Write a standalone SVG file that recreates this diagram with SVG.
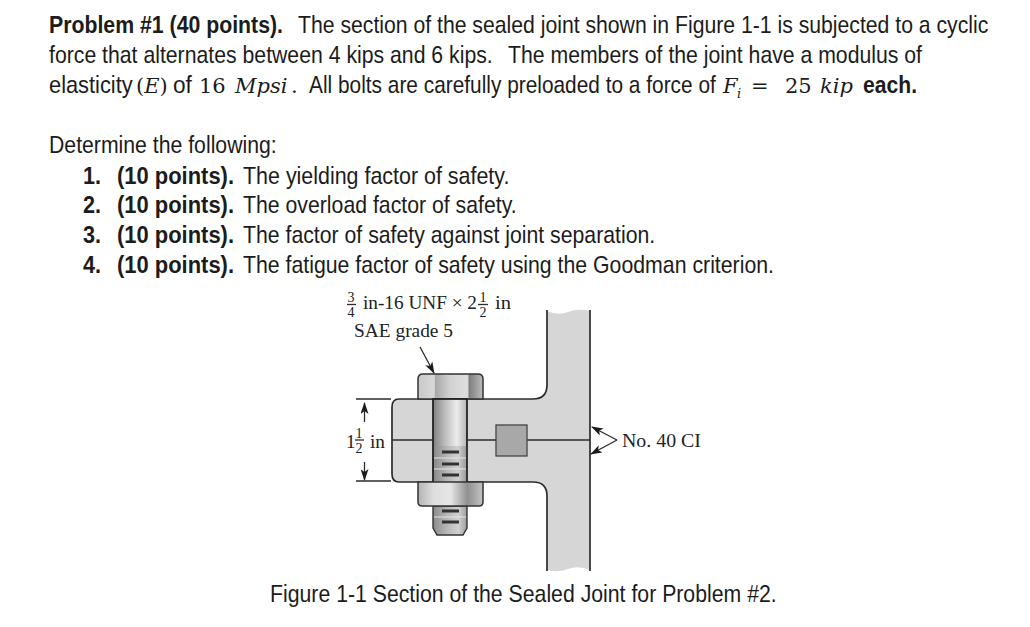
<svg xmlns="http://www.w3.org/2000/svg" width="1030" height="627" viewBox="0 0 1030 627">
<style>
.t{font-family:"Liberation Sans",Arial,sans-serif;font-size:24px;fill:#1c1c1c}
.b{font-weight:bold}
.m{font-family:"DejaVu Serif","Liberation Serif",serif;font-size:21px;fill:#1c1c1c}
.i{font-style:italic}
.s{font-family:"Liberation Serif","Times New Roman",serif;font-size:19px;fill:#222}
.f{font-family:"Liberation Serif","Times New Roman",serif;font-size:14px;fill:#222;text-anchor:middle}
.o{stroke:#2c2c2c;stroke-width:1.7;fill:none}
.l{stroke:#2c2c2c;stroke-width:1.3;fill:none}
.th{stroke:#333;stroke-width:3;fill:none}
.gap{stroke:#e4e4e4;stroke-width:1.2;fill:none}
.soft{filter:url(#soft)}
</style>
<defs>
<filter id="soft" x="-5%" y="-5%" width="110%" height="110%"><feGaussianBlur stdDeviation="0.45"/></filter>
<marker id="ah" markerWidth="12" markerHeight="8" refX="11" refY="4" orient="auto" markerUnits="userSpaceOnUse"><path d="M0,0L12,4L0,8L3,4Z" fill="#1c1c1c"/></marker>
<linearGradient id="shank" x1="0" x2="1" y1="0" y2="0"><stop offset="0" stop-color="#808080"/><stop offset=".35" stop-color="#bcbcbc"/><stop offset=".7" stop-color="#ececec"/><stop offset="1" stop-color="#b4b4b4"/></linearGradient>
<linearGradient id="thread" x1="0" x2="1" y1="0" y2="0"><stop offset="0" stop-color="#8a8a8a"/><stop offset=".4" stop-color="#b6b6b6"/><stop offset=".75" stop-color="#d0d0d0"/><stop offset="1" stop-color="#9c9c9c"/></linearGradient>
<linearGradient id="head" x1="0" x2="1" y1="0" y2="0"><stop offset="0" stop-color="#c8c8c8"/><stop offset=".25" stop-color="#d8d8d8"/><stop offset=".27" stop-color="#a8a8a8"/><stop offset=".5" stop-color="#d2d2d2"/><stop offset=".76" stop-color="#dedede"/><stop offset=".79" stop-color="#808080"/><stop offset="1" stop-color="#bcbcbc"/></linearGradient>
<linearGradient id="nut" x1="0" x2="1" y1="0" y2="0"><stop offset="0" stop-color="#b4b4b4"/><stop offset=".24" stop-color="#dedede"/><stop offset=".5" stop-color="#e6e6e6"/><stop offset=".76" stop-color="#909090"/><stop offset="1" stop-color="#c4c4c4"/></linearGradient>
</defs>

<g id="problem-text">
<text class="t b" transform="translate(49,33) scale(.9,1)" textLength="260" lengthAdjust="spacingAndGlyphs">Problem #1 (40 points).</text>
<text class="t" transform="translate(298,33) scale(.9,1)" textLength="767" lengthAdjust="spacingAndGlyphs">The section of the sealed joint shown in Figure 1-1 is subjected to a cyclic</text>
<text class="t" transform="translate(49,63) scale(.9,1)" textLength="493" lengthAdjust="spacingAndGlyphs">force that alternates between 4 kips and 6 kips.</text>
<text class="t" transform="translate(508,63) scale(.9,1)" textLength="460" lengthAdjust="spacingAndGlyphs">The members of the joint have a modulus of</text>
<text class="t" transform="translate(49,93) scale(.9,1)" textLength="93" lengthAdjust="spacingAndGlyphs">elasticity</text>
<text class="m" x="136" y="93">(<tspan class="i">E</tspan>)</text>
<text class="t" transform="translate(173,93) scale(.9,1)" textLength="21" lengthAdjust="spacingAndGlyphs">of</text>
<text class="m" x="199" y="93">16</text>
<text class="m i" x="235" y="93">Mpsi</text>
<text class="m" x="291" y="93">.</text>
<text class="t" transform="translate(309,93) scale(.9,1)" textLength="452" lengthAdjust="spacingAndGlyphs">All bolts are carefully preloaded to a force of</text>
<text class="m i" x="723" y="93">F</text>
<text class="m i" x="737" y="98" style="font-size:13px">i</text>
<text class="m" x="751" y="93">=</text>
<text class="m" x="785" y="93">25</text>
<text class="m i" x="820" y="93">kip</text>
<text class="t b" transform="translate(863,93) scale(.9,1)" textLength="60" lengthAdjust="spacingAndGlyphs">each.</text>
<text class="t" transform="translate(49,153) scale(.9,1)" textLength="253" lengthAdjust="spacingAndGlyphs">Determine the following:</text>
<text class="t b" transform="translate(83,184) scale(.9,1)">1.</text>
<text class="t b" transform="translate(117,184) scale(.9,1)" textLength="130" lengthAdjust="spacingAndGlyphs">(10 points).</text>
<text class="t" transform="translate(243,184) scale(.9,1)" textLength="296" lengthAdjust="spacingAndGlyphs">The yielding factor of safety.</text>
<text class="t b" transform="translate(83,213) scale(.9,1)">2.</text>
<text class="t b" transform="translate(117,213) scale(.9,1)" textLength="130" lengthAdjust="spacingAndGlyphs">(10 points).</text>
<text class="t" transform="translate(243,213) scale(.9,1)" textLength="304" lengthAdjust="spacingAndGlyphs">The overload factor of safety.</text>
<text class="t b" transform="translate(83,243) scale(.9,1)">3.</text>
<text class="t b" transform="translate(117,243) scale(.9,1)" textLength="130" lengthAdjust="spacingAndGlyphs">(10 points).</text>
<text class="t" transform="translate(243,243) scale(.9,1)" textLength="458" lengthAdjust="spacingAndGlyphs">The factor of safety against joint separation.</text>
<text class="t b" transform="translate(83,273) scale(.9,1)">4.</text>
<text class="t b" transform="translate(117,273) scale(.9,1)" textLength="130" lengthAdjust="spacingAndGlyphs">(10 points).</text>
<text class="t" transform="translate(243,273) scale(.9,1)" textLength="590" lengthAdjust="spacingAndGlyphs">The fatigue factor of safety using the Goodman criterion.</text>
<text class="t" transform="translate(270,602) scale(.9,1)" textLength="563" lengthAdjust="spacingAndGlyphs">Figure 1-1 Section of the Sealed Joint for Problem #2.</text>
</g>

<g id="member" class="soft">
<path d="M547,311Q558,316 568,312T590,311V570Q578,565 568,569T547,570V496Q547,482 533,482H399Q392,482 392,474V407Q392,399 399,399H533Q547,399 547,385Z" fill="#d6d6d6" stroke="none"/>
<path class="o" d="M590,310V571M547,310V385Q547,399 533,399H399Q392,399 392,407V474Q392,482 399,482H533Q547,482 547,496V571"/>
<path class="l" d="M392,440H590"/>
</g>

<g id="seal" class="soft"><rect x="496" y="425" width="31" height="31" fill="#a8a8a8" stroke="#444" stroke-width="1.3"/></g>

<g id="bolt" class="soft">
<path d="M418,399V379Q418,374 423,374H478Q483,374 483,379V399Z" fill="url(#head)" stroke="#333" stroke-width="1.5"/>
<path d="M433,506H467V528L463,535H437L433,528Z" fill="url(#thread)" stroke="#333" stroke-width="1.4"/>
<rect x="433" y="399" width="34" height="83" fill="url(#shank)" stroke="#222" stroke-width="1.8"/>
<rect x="434" y="446" width="32" height="36" fill="url(#thread)"/>
<path d="M418,482H483V502Q483,506 479,506H422Q418,506 418,502Z" fill="url(#nut)" stroke="#333" stroke-width="1.5"/>
<path class="gap" d="M434,458H466M434,469H466M434,517H466"/>
<path class="th" d="M442,452H459M442,464H459M442,475H459M442,511H459M442,522H459"/>
</g>

<g id="labels">
<text class="f" x="351" y="302">3</text>
<path class="l" d="M347,304.500H356"/>
<text class="f" x="351" y="317">4</text>
<text class="s" x="363" y="309" textLength="114" lengthAdjust="spacingAndGlyphs">in-16 UNF × 2</text>
<text class="f" x="483" y="302">1</text>
<path class="l" d="M478,304.500H488"/>
<text class="f" x="483" y="317">2</text>
<text class="s" x="495" y="309" textLength="16" lengthAdjust="spacingAndGlyphs">in</text>
<text class="s" x="354" y="337" textLength="99" lengthAdjust="spacingAndGlyphs">SAE grade 5</text>
<text class="s" x="346" y="448">1</text>
<text class="f" x="359" y="438">1</text>
<path class="l" d="M355,440H364"/>
<text class="f" x="359" y="453">2</text>
<text class="s" x="370" y="448" textLength="15" lengthAdjust="spacingAndGlyphs">in</text>
<text class="s" x="622" y="447" textLength="79" lengthAdjust="spacingAndGlyphs">No. 40 CI</text>
</g>

<g id="connectors">
<path class="l" d="M420,347L434,373" marker-end="url(#ah)"/>
<path class="l" d="M356,399H391M356,481H391"/>
<path class="l" d="M364.500,422V403" marker-end="url(#ah)"/>
<path class="l" d="M364.500,462V480" marker-end="url(#ah)"/>
<path class="l" d="M617,440L592,427" marker-end="url(#ah)"/>
<path class="l" d="M617,440L591,454" marker-end="url(#ah)"/>
</g>
</svg>
